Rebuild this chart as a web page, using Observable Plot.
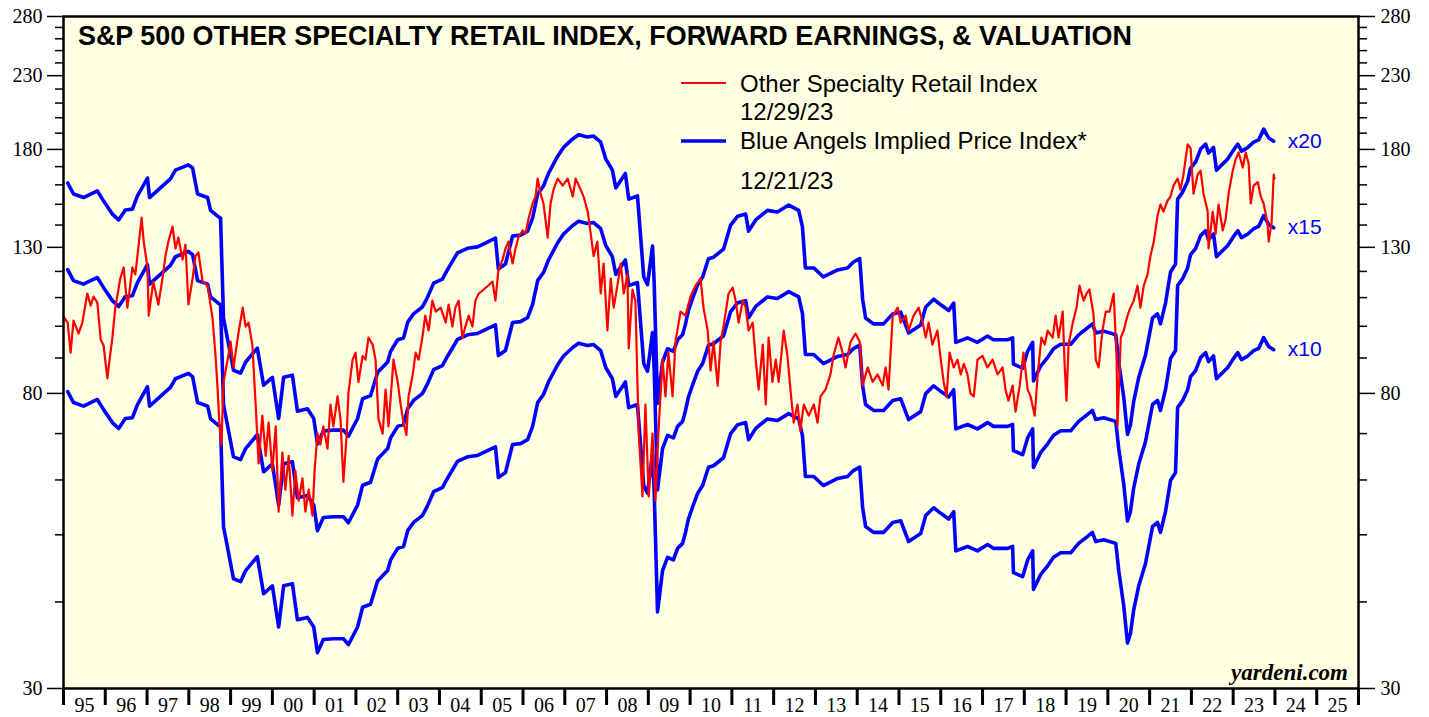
<!DOCTYPE html>
<html>
<head>
<meta charset="utf-8">
<script src="https://cdn.jsdelivr.net/npm/d3@7"></script>
<script src="https://cdn.jsdelivr.net/npm/@observablehq/plot@0.6"></script>
<style>
  html, body { margin: 0; padding: 0; background: #ffffff; }
  #wrap { position: relative; width: 1429px; height: 717px; overflow: hidden; }
  #wrap > svg { position: absolute; left: 0; top: 0; }
  #overlay { position: absolute; left: 0; top: 0; pointer-events: none; }
</style>
</head>
<body>
<div id="wrap"></div>
<script>
// ---------- DATA ----------
// S&P 500 Other Specialty Retail Index (decimal year, index value)
const priceYears = [1995.00,1995.10,1995.17,1995.24,1995.36,1995.45,1995.57,1995.65,1995.72,1995.81,1995.89,1995.96,1996.05,1996.08,1996.17,1996.24,1996.36,1996.44,1996.53,1996.65,1996.72,1996.80,1996.87,1996.92,1997.01,1997.04,1997.15,1997.27,1997.37,1997.44,1997.51,1997.61,1997.68,1997.75,1997.85,1997.92,1997.99,1998.09,1998.16,1998.23,1998.33,1998.45,1998.57,1998.64,1998.69,1998.73,1998.78,1998.83,1998.93,1999.00,1999.07,1999.17,1999.29,1999.36,1999.43,1999.52,1999.60,1999.67,1999.76,1999.84,1999.91,2000.00,2000.08,2000.15,2000.24,2000.31,2000.39,2000.48,2000.55,2000.63,2000.72,2000.79,2000.87,2000.96,2001.01,2001.08,2001.15,2001.22,2001.32,2001.39,2001.46,2001.56,2001.63,2001.70,2001.78,2001.82,2001.92,2001.99,2002.06,2002.16,2002.23,2002.30,2002.40,2002.47,2002.54,2002.64,2002.71,2002.78,2002.90,2003.00,2003.07,2003.14,2003.21,2003.26,2003.36,2003.43,2003.50,2003.59,2003.66,2003.74,2003.83,2003.91,2004.03,2004.15,2004.22,2004.31,2004.38,2004.46,2004.55,2004.62,2004.70,2004.79,2004.86,2004.94,2005.06,2005.17,2005.27,2005.34,2005.41,2005.51,2005.58,2005.65,2005.75,2005.82,2005.89,2005.99,2006.06,2006.13,2006.23,2006.30,2006.35,2006.42,2006.49,2006.59,2006.66,2006.73,2006.83,2006.95,2007.07,2007.19,2007.26,2007.38,2007.45,2007.55,2007.62,2007.69,2007.78,2007.86,2007.93,2008.02,2008.10,2008.17,2008.26,2008.34,2008.41,2008.50,2008.53,2008.62,2008.69,2008.77,2008.86,2008.93,2009.01,2009.10,2009.17,2009.24,2009.34,2009.41,2009.48,2009.58,2009.65,2009.77,2009.89,2010.01,2010.13,2010.25,2010.32,2010.42,2010.49,2010.56,2010.66,2010.73,2010.80,2010.92,2011.02,2011.09,2011.16,2011.26,2011.33,2011.40,2011.50,2011.57,2011.64,2011.74,2011.81,2011.88,2011.97,2012.05,2012.12,2012.24,2012.33,2012.41,2012.48,2012.57,2012.64,2012.72,2012.84,2012.96,2013.05,2013.12,2013.24,2013.36,2013.43,2013.55,2013.65,2013.72,2013.84,2013.96,2014.06,2014.13,2014.25,2014.37,2014.49,2014.61,2014.68,2014.75,2014.85,2014.97,2015.04,2015.16,2015.23,2015.35,2015.47,2015.57,2015.64,2015.71,2015.80,2015.92,2016.00,2016.07,2016.14,2016.21,2016.31,2016.40,2016.48,2016.55,2016.64,2016.71,2016.79,2016.88,2017.00,2017.12,2017.24,2017.36,2017.48,2017.55,2017.62,2017.72,2017.79,2017.89,2017.98,2018.08,2018.15,2018.25,2018.32,2018.41,2018.49,2018.56,2018.68,2018.75,2018.82,2018.92,2018.96,2019.01,2019.06,2019.16,2019.25,2019.32,2019.42,2019.49,2019.56,2019.66,2019.71,2019.78,2019.87,2019.95,2020.04,2020.14,2020.21,2020.23,2020.31,2020.38,2020.47,2020.54,2020.62,2020.71,2020.78,2020.86,2020.95,2021.02,2021.10,2021.19,2021.26,2021.33,2021.43,2021.50,2021.57,2021.67,2021.74,2021.81,2021.91,2021.98,2022.05,2022.15,2022.22,2022.29,2022.39,2022.41,2022.51,2022.58,2022.65,2022.75,2022.82,2022.89,2022.99,2023.06,2023.13,2023.23,2023.30,2023.37,2023.42,2023.49,2023.59,2023.66,2023.73,2023.82,2023.85,2023.92,2023.97,2023.99];
const priceValues = [103.3,101.2,91.6,101.9,97.6,101.2,111.5,107.1,110.4,108.2,95.7,93.8,84.1,87.2,96.3,106.4,117.2,121.6,106.4,121.6,118.8,131.2,143.5,132.5,121.6,103.6,116.0,107.5,117.2,126.3,132.5,139.3,129.5,134.3,124.8,131.2,107.5,117.2,126.3,127.8,116.0,114.5,102.4,90.6,81.0,72.6,67.5,83.1,89.5,95.0,87.2,96.3,106.4,99.9,101.2,94.1,77.1,63.4,74.3,65.0,72.6,61.9,71.7,54.0,65.7,58.1,65.0,53.3,61.9,56.0,60.3,54.0,58.1,53.3,61.9,70.0,67.5,71.7,66.6,77.1,71.7,79.2,73.5,59.6,70.0,80.0,89.5,91.6,83.1,90.6,89.5,96.3,94.1,89.5,73.5,70.0,81.0,71.7,89.5,83.1,77.1,72.6,69.7,79.2,85.2,91.6,89.5,96.3,103.6,98.6,108.9,105.0,106.4,101.2,107.5,99.9,106.4,108.9,96.3,99.9,103.6,99.9,108.9,111.5,113.0,114.5,116.0,108.9,120.3,124.8,129.5,132.5,123.2,129.5,134.3,137.5,136.1,142.8,150.4,153.9,163.4,155.4,150.4,134.3,150.4,157.5,163.4,159.6,163.4,153.9,163.4,157.5,153.9,146.4,136.1,126.3,132.5,111.5,123.2,98.6,117.2,106.4,114.5,123.2,111.5,118.8,92.9,113.0,108.9,70.0,56.8,77.1,56.8,70.0,56.0,70.0,89.5,79.2,91.6,79.2,95.0,105.0,103.6,110.4,114.5,117.2,106.4,98.6,86.3,95.0,82.1,95.0,99.9,111.5,113.7,108.9,101.2,108.9,106.4,98.6,101.2,89.5,81.0,94.1,77.1,96.3,83.1,89.5,83.1,98.6,90.6,80.0,72.6,77.1,70.7,77.1,74.3,77.1,72.6,79.2,81.0,85.2,90.6,96.3,91.6,87.2,95.0,97.6,95.0,82.1,87.2,83.1,85.2,82.1,87.2,81.0,103.6,106.4,101.2,103.6,98.6,103.6,106.4,101.2,96.3,101.2,94.1,98.6,89.5,83.1,79.2,91.6,87.2,89.5,85.2,88.3,85.2,80.0,79.2,89.5,90.6,87.2,89.5,85.2,87.2,81.0,78.1,82.1,75.3,82.1,91.6,81.0,79.2,74.3,85.2,96.3,94.1,98.6,96.3,103.6,96.3,105.0,89.5,78.1,94.1,101.2,106.4,114.5,108.9,111.5,113.0,103.6,89.5,87.2,98.6,105.0,105.0,111.5,89.5,71.7,96.3,98.6,103.6,106.4,108.9,114.5,106.4,114.5,118.8,126.3,132.5,144.5,149.9,146.4,151.9,153.9,159.6,163.4,157.5,165.6,183.0,180.6,155.4,165.6,167.8,155.4,146.4,129.5,146.4,136.1,149.9,137.5,142.8,155.4,167.8,174.1,178.2,169.5,178.2,171.8,150.4,159.6,161.5,153.9,150.4,141.2,132.5,141.2,165.6,163.4];

// Forward earnings (decimal year, forward EPS); implied price = EPS x multiple
const epsYears = [1995.10,1995.24,1995.48,1995.65,1995.81,1995.96,1996.17,1996.32,1996.48,1996.65,1996.77,1997.01,1997.06,1997.32,1997.56,1997.68,1997.99,1998.09,1998.21,1998.45,1998.52,1998.69,1998.76,1998.83,1999.07,1999.24,1999.36,1999.64,1999.79,2000.00,2000.15,2000.27,2000.48,2000.60,2000.84,2000.99,2001.08,2001.22,2001.46,2001.70,2001.82,2002.04,2002.16,2002.35,2002.52,2002.76,2002.83,2003.00,2003.14,2003.24,2003.38,2003.59,2003.71,2003.86,2004.07,2004.19,2004.43,2004.67,2004.91,2005.05,2005.34,2005.41,2005.58,2005.75,2005.94,2006.11,2006.23,2006.35,2006.49,2006.61,2006.83,2006.97,2007.19,2007.33,2007.54,2007.69,2007.86,2007.98,2008.14,2008.22,2008.45,2008.53,2008.74,2008.89,2008.98,2009.10,2009.14,2009.22,2009.34,2009.46,2009.60,2009.70,2009.82,2009.89,2009.96,2010.08,2010.18,2010.30,2010.44,2010.56,2010.80,2010.97,2011.14,2011.33,2011.40,2011.57,2011.85,2012.09,2012.36,2012.60,2012.69,2012.76,2012.96,2013.19,2013.53,2013.77,2013.91,2014.06,2014.13,2014.20,2014.39,2014.63,2014.85,2015.04,2015.23,2015.52,2015.64,2015.83,2016.00,2016.19,2016.31,2016.36,2016.64,2016.88,2017.12,2017.26,2017.60,2017.72,2017.74,2017.96,2018.08,2018.20,2018.22,2018.39,2018.56,2018.70,2018.87,2019.11,2019.30,2019.47,2019.63,2019.71,2019.90,2020.19,2020.26,2020.38,2020.47,2020.54,2020.62,2020.74,2020.90,2021.07,2021.19,2021.26,2021.38,2021.50,2021.62,2021.67,2021.79,2021.91,2021.98,2022.10,2022.22,2022.34,2022.41,2022.53,2022.60,2022.70,2022.87,2022.99,2023.11,2023.20,2023.35,2023.49,2023.61,2023.73,2023.85,2023.97];
const epsValues = [8.05,7.76,7.67,7.76,7.84,7.58,7.26,7.12,7.36,7.38,7.71,8.18,7.67,7.92,8.16,8.40,8.55,8.46,7.76,7.67,7.35,7.21,7.16,5.14,4.32,4.28,4.44,4.65,4.11,4.22,3.68,4.22,4.25,3.77,3.80,3.68,3.38,3.53,3.54,3.54,3.47,3.68,3.93,3.97,4.29,4.44,4.60,4.78,4.81,5.07,5.21,5.33,5.50,5.77,5.85,6.03,6.38,6.48,6.51,6.57,6.70,6.05,6.15,6.75,6.77,6.86,7.17,7.76,7.97,8.31,8.80,9.06,9.32,9.45,9.38,9.41,9.22,8.72,8.40,7.92,8.31,7.63,7.71,5.89,5.74,6.53,5.77,3.87,4.44,4.64,4.60,4.78,4.86,5.04,5.27,5.53,5.74,5.89,6.26,6.29,6.46,7.00,7.21,7.26,6.86,7.12,7.35,7.31,7.48,7.35,6.95,6.07,6.07,5.89,6.03,6.07,6.19,6.26,5.47,5.14,5.04,5.04,5.21,5.24,4.89,5.02,5.33,5.47,5.37,5.27,5.40,4.74,4.81,4.74,4.84,4.78,4.78,4.81,4.41,4.35,4.60,4.74,4.17,4.38,4.51,4.64,4.71,4.71,4.86,4.95,5.04,4.89,4.92,4.86,4.44,3.95,3.49,3.60,3.90,4.22,4.54,5.14,5.21,5.04,5.40,5.99,6.15,7.63,7.81,8.10,8.46,8.63,9.01,9.16,8.89,9.06,8.40,8.52,8.72,8.95,9.16,8.95,9.06,9.22,9.29,9.63,9.35,9.25];

const multiples = [10, 15, 20];
const multipleLabels = ["x10", "x15", "x20"];

const yMajorTicks = [30, 80, 130, 180, 230, 280];
const yMinorTicks = [40, 50, 60, 70, 90, 100, 110, 120, 140, 150, 160, 170, 190, 200, 210, 220, 240, 250, 260, 270];
const yearBoundaries = d3.range(1995, 2027);
const yearLabels = ["95","96","97","98","99","00","01","02","03","04","05","06","07","08","09","10","11","12","13","14","15","16","17","18","19","20","21","22","23","24","25"];

const titleText = "S&P 500 OTHER SPECIALTY RETAIL INDEX, FORWARD EARNINGS, & VALUATION";
const legendRed = "Other Specialty Retail Index";
const legendRedDate = "12/29/23";
const legendBlue = "Blue Angels Implied Price Index*";
const legendBlueDate = "12/21/23";
const sourceText = "yardeni.com";

// ---------- BUILD ----------
const RED = "#ff0000", BLUE = "#0000ff", BG = "#ffffe3";
const priceRows = priceYears.map((t, i) => ({t, v: priceValues[i]}));
const bandRows = multiples.flatMap(m => epsYears.map((t, i) => ({t, v: epsValues[i] * m, m})));
const lastRows = multiples.map((m, k) => ({t: epsYears[epsYears.length - 1], v: epsValues[epsValues.length - 1] * m, label: multipleLabels[k]}));
const yearMids = yearLabels.map((_, i) => 1995.5 + i);

const W = 1429, H = 717, ML = 63, MR = 71, MT = 16, MB = 29;
const serif = "'Liberation Serif', 'Times New Roman', serif";
const sans = "'Liberation Sans', Arial, sans-serif";

const chart = Plot.plot({
  width: W, height: H,
  marginLeft: ML, marginRight: MR, marginTop: MT, marginBottom: MB,
  style: {fontFamily: serif, fontSize: "20px", background: "#ffffff", color: "#000"},
  x: {type: "linear", domain: [1995, 2026]},
  y: {type: "log", domain: [30, 280]},
  marks: [
    Plot.frame({fill: BG, stroke: null}),
    Plot.line(bandRows, {x: "t", y: "v", z: "m", stroke: BLUE, strokeWidth: 3.6, strokeLinejoin: "round", strokeLinecap: "round"}),
    Plot.line(priceRows, {x: "t", y: "v", stroke: RED, strokeWidth: 2.2, strokeLinejoin: "round"}),
    Plot.text(lastRows, {x: "t", y: "v", text: "label", dx: 14, textAnchor: "start", fill: BLUE, fontFamily: sans, fontSize: 21}),
    Plot.frame({stroke: "#000", strokeWidth: 2.5}),
    Plot.axisY(yMajorTicks, {anchor: "left", tickSize: 16, tickPadding: 5, strokeWidth: 1.5, fontSize: 20, label: null, tickFormat: d => String(d)}),
    Plot.axisY(yMinorTicks, {anchor: "left", tickSize: 8, strokeWidth: 1.5, label: null, tickFormat: () => ""}),
    Plot.axisY(yMajorTicks, {anchor: "right", tickSize: 16, tickPadding: 6, strokeWidth: 1.5, fontSize: 20, label: null, tickFormat: d => String(d)}),
    Plot.axisY(yMinorTicks, {anchor: "right", tickSize: 8, strokeWidth: 1.5, label: null, tickFormat: () => ""}),
    Plot.axisX(yearBoundaries, {anchor: "bottom", tickSize: 17, strokeWidth: 3, label: null, tickFormat: () => ""}),
    Plot.axisX(yearMids, {anchor: "bottom", tickSize: 0, tickPadding: 9, fontSize: 20, label: null, tickFormat: d => yearLabels[Math.round(d - 1995.5)]})
  ]
});

const wrap = document.getElementById("wrap");
wrap.appendChild(chart);

// ---------- OVERLAY: title, legend, source ----------
const ns = "http://www.w3.org/2000/svg";
const ov = document.createElementNS(ns, "svg");
ov.setAttribute("id", "overlay");
ov.setAttribute("width", W);
ov.setAttribute("height", H);
function txt(s, x, y, attrs) {
  const t = document.createElementNS(ns, "text");
  t.setAttribute("x", x); t.setAttribute("y", y);
  for (const k in attrs) t.setAttribute(k, attrs[k]);
  t.textContent = s;
  ov.appendChild(t);
}
function seg(x1, x2, y, color, w) {
  const l = document.createElementNS(ns, "line");
  l.setAttribute("x1", x1); l.setAttribute("x2", x2);
  l.setAttribute("y1", y); l.setAttribute("y2", y);
  l.setAttribute("stroke", color); l.setAttribute("stroke-width", w);
  ov.appendChild(l);
}
txt(titleText, 78, 45, {"font-family": sans, "font-size": 26.9, "font-weight": "bold", fill: "#000"});
seg(681, 726, 83, RED, 2.2);
txt(legendRed, 740, 92, {"font-family": sans, "font-size": 24, fill: "#000"});
txt(legendRedDate, 740, 120, {"font-family": sans, "font-size": 24, fill: "#000"});
seg(681, 726, 141, BLUE, 3.6);
txt(legendBlue, 740, 149, {"font-family": sans, "font-size": 24, fill: "#000"});
txt(legendBlueDate, 740, 189, {"font-family": sans, "font-size": 24, fill: "#000"});
txt(sourceText, 1348, 680, {"font-family": serif, "font-size": 23, "font-weight": "bold", "font-style": "italic", "text-anchor": "end", fill: "#000"});
wrap.appendChild(ov);
</script>
</body>
</html>
